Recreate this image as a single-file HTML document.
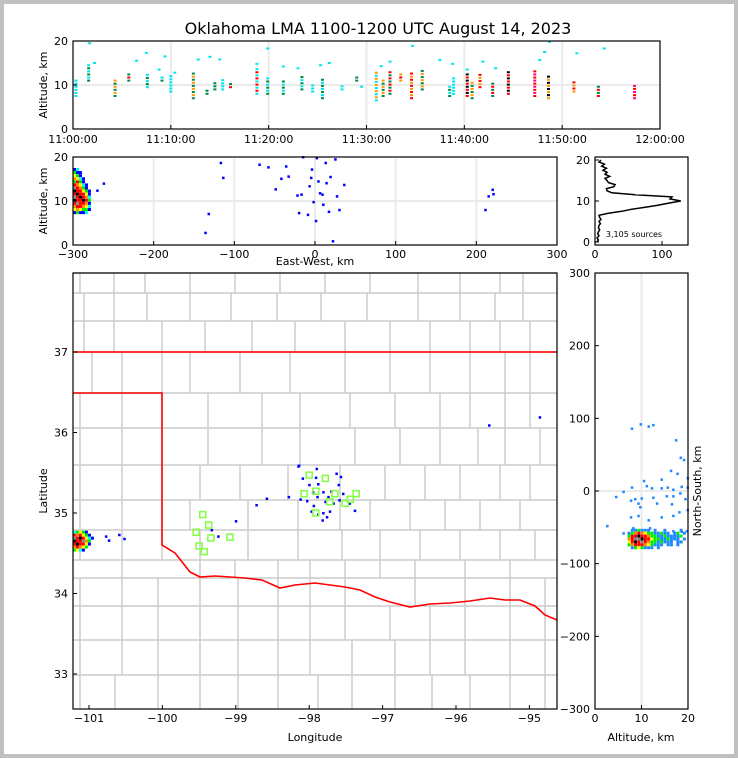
<!DOCTYPE html>
<html><head><meta charset="utf-8">
<style>
html,body{margin:0;padding:0;background:#c0c0c0;}
#fig{position:absolute;left:4px;top:4px;width:730px;height:750px;background:#fff;}
svg{position:absolute;left:0;top:0;}
text{font-family:"DejaVu Sans","Liberation Sans",sans-serif;fill:#000;}
</style></head>
<body>
<div id="fig"></div>
<svg id="svg" width="738" height="758"></svg>
<script>
// ---------- data ----------
const flashTimes = [0.3,1.6,4.3,5.7,7.6,9.1,10,12.3,13.7,14.5,15.3,16.1,18.8,19.9,21.5,23.4,24.5,25.5,27.5,29,31,31.7,32.4,33.5,34.6,35.7,38.5,38.9,40.3,40.8,41.6,42.9,44.5,47.2,48.6,51.2,53.7,57.4];
const flashLo = [7.5,11,7.5,11,9.5,11,8.5,7,8,9,9,9.5,8,8,8,9,8.5,7,9,11,6.5,7.5,8,11,7,9,7.5,8,7.5,7,9.5,7.5,8,7.5,7,8.5,7.5,7];
const flashHi = [11,14.5,11,13,12.5,12,12.5,13,9,11,11.5,10.5,14,11.5,11,12,10.5,11.5,10,12,13,11,13,13,13,13.5,10,12,13,11,12.5,10.5,13,13.5,12,11,10,10];
const flashC1 = ['c','g','g','g','c','g','c','g','g','g','c','r','c','g','g','g','c','g','c','g','c','g','g','o','r','g','g','c','r','g','r','g','r','r','o','o','r','m'];
const flashC2 = ['c','c','o','r','g','c','c','o','g','g','c','g','r','c','c','c','c','c','c','g','o','o','r','r','o','o','c','c','k','o','o','r','k','m','k','r','g','r'];
const highT = [1.7,2.2,6.5,7.5,8.8,9.4,10.4,12.8,14.0,15.0,18.8,19.9,21.5,23,25.3,26.2,29.5,31.5,32.4,34.7,37.5,38.8,40.3,41.9,43.2,47.7,48.2,48.7,51.5,54.3];
const highAlt = [19.5,15,15.5,17.3,13.5,16.5,12.8,15.8,16.4,15.8,14.8,18.3,14.2,13.8,14.5,15,9.6,14.3,15.3,18.9,15.7,14.8,13.5,15.3,13.8,15.7,17.5,19.8,17.2,18.3];

const ewKm = [-270,-262,-132,-136,-117,-114,-69,-58,-49,-42,-36,-33,-22,-20,-17,-15,-9,-7,-5,-4,-2,1,2,4,6,9,10,13,14,17,19,22,25,27,30,36,211,215,220,221];
const ewAlt = [12.4,14,7.1,2.8,18.7,15.3,18.3,17.7,12.7,15.1,17.9,15.6,11.3,7.3,11.5,20,6.9,13.4,15.3,17.2,9.8,5.5,19.8,14.5,11.8,11.5,9.2,18.7,14.1,7.6,15.5,0.9,19.5,11.1,8,13.7,8,11.1,12.6,11.6];
const ewGrid = [[1,2,0,0,0,0],[3,1,1,0,0,0],[4,3,1,0,0,0],[5,4,2,1,0,0],[3,6,3,1,0,0],[6,5,4,2,1,0],[8,6,5,3,1,0],[9,6,6,4,3,1],[6,9,6,6,4,1],[8,6,9,6,5,2],[9,6,6,9,6,3],[6,8,6,6,5,1],[5,6,6,5,4,2],[4,5,4,3,3,1],[1,3,1,1,2,0]];

const histAlt = [0,0.5,1,1.5,2,2.5,3,3.5,4,4.5,5,5.5,6,6.5,7,7.5,8,8.5,9,9.5,10,10.5,11,11.5,12,12.5,13,13.5,14,14.5,15,15.5,16,16.5,17,17.5,18,18.5,19,19.5,20];
const histCount = [3,5,3,6,4,5,7,5,6,8,6,9,7,6,20,40,55,75,95,110,128,112,115,60,25,18,17,28,30,20,18,15,22,15,18,12,17,10,14,6,9];

const ptLon = [-100.77,-100.59,-100.52,-100.73,-95.55,-94.86,-98.15,-98.14,-97.90,-98.09,-97.91,-97.63,-97.57,-98.00,-97.88,-97.81,-97.70,-97.60,-97.54,-97.95,-98.12,-98.03,-97.89,-97.78,-97.74,-97.67,-97.59,-97.45,-97.38,-97.97,-97.88,-97.81,-97.72,-97.82,-97.76,-97.94,-98.28,-98.58,-98.72,-99.00,-99.24,-99.33];
const ptLat = [34.71,34.73,34.68,34.66,36.09,36.19,35.58,35.59,35.55,35.43,35.44,35.49,35.45,35.35,35.36,35.26,35.27,35.35,35.24,35.26,35.17,35.15,35.20,35.14,35.20,35.12,35.16,35.12,35.03,35.02,34.98,35.00,35.02,34.91,34.95,35.09,35.20,35.18,35.10,34.90,34.71,34.79];
const mapGrid = [[2,3,4,3,1,0,0],[6,5,6,4,3,1,0],[8,6,9,6,4,2,1],[9,6,6,8,5,3,0],[6,9,6,6,4,1,0],[5,6,5,4,3,0,0],[3,4,2,1,0,0,0]];
const stLon = [-98.00,-97.78,-98.07,-97.91,-97.65,-97.72,-97.51,-97.44,-97.36,-97.91,-99.45,-99.37,-99.54,-99.34,-99.08,-99.50,-99.43];
const stLat = [35.47,35.43,35.24,35.27,35.24,35.14,35.12,35.17,35.24,35.00,34.98,34.85,34.76,34.69,34.70,34.59,34.52];

const nsAlt = [7.9,9.8,11.5,12.5,17.4,18.4,19.1,16.3,17.7,19.9,10.5,14.3,7.9,11.1,12.2,14.3,15.6,16.8,18.6,19.9,4.5,6.1,8.6,10,12.5,15.4,16.8,18.3,7.7,9.3,13.3,16.5,19.4,19.9,9.7,9.3,11.5,14.3,16.8,18.1,7.7,2.6,6.1,8.2,11.8,16.8,18.6,19.7];
const nsKm = [86,92,89,91,70,46,43,28,24,18,14,16,5,7,4,4,5,2,6,5,-8,-1,-11,-10,-9,-7,-7,-3,-13,-17,-17,-18,-11,-26,-22,-34,-40,-36,-34,-29,-36,-48,-58,-51,-51,-55,-56,-55];
const nsGrid = [[0,1,1,3,1,1,1,0,1,0,0,1,0,0,0,0,1,0],[1,3,5,6,5,4,3,3,1,1,3,1,1,0,1,3,0,1],[3,6,6,9,6,6,5,3,3,1,1,3,1,1,1,1,3,0],[5,6,8,8,9,6,6,4,3,3,1,1,3,1,1,1,0,1],[4,6,9,6,8,6,5,3,3,1,3,1,1,1,0,1,1,0],[3,5,6,6,6,5,4,3,1,1,1,0,1,1,0,1,0,0],[0,1,3,4,3,1,1,1,0,1,0,0,0,0,0,0,0,0]];

const timeLabels = ['11:00:00','11:10:00','11:20:00','11:30:00','11:40:00','11:50:00','12:00:00'];
const lonTicks = [-101,-100,-99,-98,-97,-96,-95];
const latTicks = [33,34,35,36,37];

// ---------- helpers ----------
const NS='http://www.w3.org/2000/svg';
const svg=document.getElementById('svg');
function mk(tag,attrs,parent){const e=document.createElementNS(NS,tag);for(const k in attrs)e.setAttribute(k,attrs[k]);(parent||svg).appendChild(e);return e;}
const levelColor=['none','#0000ff','#00ffff','#00ee00','#ffff00','#ff8800','#ff0000','#ff0066','#888888','#000000'];
const tcol={c:'#00e5ee',g:'#008844',o:'#ff9900',r:'#ff0000',k:'#000000',m:'#ff0088'};
function lin(d0,d1,r0,r1){return v=>r0+(v-d0)*(r1-r0)/(d1-d0);}
function text(x,y,s,anchor,size,name,rot){const t=mk('text',{x:x,y:y,'text-anchor':anchor||'middle','font-size':size||11});t.textContent=s;if(rot)t.setAttribute('transform','rotate('+rot+' '+x+' '+y+')');

return t;}
function frame(x0,y0,x1,y1,name){const r=mk('rect',{x:x0,y:y0,width:x1-x0,height:y1-y0,fill:'none',stroke:'#000','stroke-width':1.2});

}
function gridLine(x1,y1,x2,y2){const l=mk('line',{x1:x1,y1:y1,x2:x2,y2:y2,stroke:'#ebebeb','stroke-width':2});

}
function tick(x1,y1,x2,y2){const l=mk('line',{x1:x1,y1:y1,x2:x2,y2:y2,stroke:'#000','stroke-width':1});

}
function cell(x,y,w,h,c,name){const r=mk('rect',{x:x,y:y,width:w,height:h,fill:c});

}

text(378,34,'Oklahoma LMA 1100-1200 UTC August 14, 2023','middle',16,'chart-title');

// ---------- top panel: time-height ----------
const tx=lin(0,60,73,660), ty=lin(0,20,129,41);
gridLine(73,ty(10),660,ty(10));
for(let i=1;i<6;i++)gridLine(tx(i*10),41,tx(i*10),129);
flashTimes.forEach((t,i)=>{
  let k=0;
  for(let a=flashLo[i];a<=flashHi[i];a+=0.7,k++){
    cell(tx(t)-1.5,ty(a)-1,3,2,tcol[k%2?flashC2[i]:flashC1[i]],'time-height-source');
  }
});
highT.forEach((t,i)=>cell(tx(t)-1.5,ty(highAlt[i])-1,3,2,'#00e5ee','time-height-source'));
frame(73,41,660,129,'time-height-axes');
[0,10,20].forEach(v=>{tick(73,ty(v),77,ty(v));text(68,ty(v)+4,String(v),'end',11,'y-tick-label');});
timeLabels.forEach((s,i)=>{tick(tx(i*10),129,tx(i*10),125);text(tx(i*10),143,s,'middle',11,'x-tick-label');});
text(47,85,'Altitude, km','middle',11,'y-axis-title',-90);

// ---------- middle panel: east-west vs altitude ----------
const ex=lin(-300,300,73,557), ey=lin(0,20,245,157);
gridLine(73,ey(10),557,ey(10));
for(let v=-200;v<=200;v+=100)gridLine(ex(v),157,ex(v),245);
ewGrid.forEach((row,r)=>row.forEach((lv,c)=>{if(lv)cell(ex(-300+c*3.7),ey(17.5-r*0.7),3,3,levelColor[lv],'ew-density-cell');}));
ewKm.forEach((k,i)=>cell(ex(k)-1,ey(ewAlt[i])-1,2.5,2.5,'#0000ff','ew-source'));
frame(73,157,557,245,'east-west-axes');
[0,10,20].forEach(v=>{tick(73,ey(v),77,ey(v));text(68,ey(v)+4,String(v),'end',11,'y-tick-label');});
for(let v=-300;v<=300;v+=100){tick(ex(v),245,ex(v),241);text(ex(v),258,(v<0?'\u2212':'')+Math.abs(v),'middle',11,'x-tick-label');}
text(315,265,'East-West, km','middle',11,'x-axis-title');
text(47,201,'Altitude, km','middle',11,'y-axis-title',-90);

// ---------- histogram ----------
const hx=lin(0,100,595,662), hy=lin(0,20,242,160);
let d='';histAlt.forEach((a,i)=>{d+=(i?'L':'M')+hx(histCount[i]).toFixed(1)+' '+hy(a).toFixed(1);});
const hp=mk('path',{d:d,fill:'none',stroke:'#000','stroke-width':1.5});


frame(595,157,688,245,'histogram-axes');
[0,10,20].forEach(v=>{tick(595,hy(v),599,hy(v));text(590,hy(v)+4,String(v),'end',11,'y-tick-label');});
[0,100].forEach(v=>{tick(hx(v),245,hx(v),241);text(hx(v),258,String(v),'middle',11,'x-tick-label');});
text(634,237,'3,105 sources','middle',8,'source-count-label');

// ---------- map ----------
const mx=lin(-101,-95,89,529.4), my=lin(35,36,513,432.5);
const cg=mk('g',{stroke:'#cccccc','stroke-width':1.5,fill:'none'});


const bands=[[273,293,[80,114,145,190,235,280,325,370,418,460,500,523]],[293,321,[84,114,147,190,231,277,321,367,418,460,495,523]],[321,352,[84,114,162,205,252,295,345,390,430,470,500,530]],[352,393,[92,122,162,190,240,290,345,390,430,470,505,530]],[393,428,[80,122,162,208,262,300,350,395,440,470,505,530]],[428,465,[80,122,162,208,262,300,355,400,440,478,505,540]],[465,500,[80,122,162,200,240,288,340,385,425,460,500,530]],[500,530,[80,122,162,190,248,298,340,370,410,445,480,520]],[530,560,[80,122,162,200,248,298,342,380,420,460,500,535]],[560,578,[122,200,235,278,310,345,380,415,465,510]],[578,606,[80,122,158,200,238,278,310,345,415,465,510,545]],[606,640,[80,122,158,200,238,278,310,345,390,430,465,510,545]],[640,675,[80,122,158,200,238,278,310,352,395,430,465,510,545]],[675,709,[80,115,158,200,238,278,318,352,395,432,470,510,545]]];
bands.forEach(b=>{mk('line',{x1:73,y1:b[0],x2:557,y2:b[0]},cg);b[2].forEach(x=>mk('line',{x1:x,y1:b[0],x2:x,y2:b[1]},cg));});
const red=mk('path',{d:'M73 352 L557 352 M73 393 L162 393 L162 545 L175 553 L190 572 L200 577 L215 576 L230 577 L245 578 L262 580 L280 588 L295 585 L315 583 L330 585 L345 587 L360 590 L375 597 L390 602 L410 607 L430 604 L450 603 L470 601 L490 598 L505 600 L520 600 L535 606 L545 615 L557 620',fill:'none',stroke:'#ff0000','stroke-width':1.6});


mapGrid.forEach((row,r)=>row.forEach((lv,c)=>{if(lv)cell(mx(-101.22+c*0.041),my(34.78-r*0.037),3,3,levelColor[lv],'map-density-cell');}));
ptLon.forEach((lo,i)=>cell(mx(lo)-1,my(ptLat[i])-1,2.5,2.5,'#0000ff','map-source'));
stLon.forEach((lo,i)=>{const r=mk('rect',{x:mx(lo)-3,y:my(stLat[i])-3,width:6,height:6,fill:'none',stroke:'#7fff3f','stroke-width':1.5});

});
frame(73,273,557,709,'map-axes');
latTicks.forEach(v=>{tick(73,my(v),77,my(v));text(68,my(v)+4,String(v),'end',11,'y-tick-label');});
lonTicks.forEach(v=>{tick(mx(v),709,mx(v),705);text(mx(v),722,'\u2212'+Math.abs(v),'middle',11,'x-tick-label');});
text(315,741,'Longitude','middle',11,'x-axis-title');
text(47,491,'Latitude','middle',11,'y-axis-title',-90);

// ---------- right panel: altitude vs north-south ----------
const rx=lin(0,20,595,688), ry=lin(-300,300,709,273);
gridLine(rx(10),273,rx(10),709);gridLine(595,ry(0),688,ry(0));
nsGrid.forEach((row,r)=>row.forEach((lv,c)=>{if(lv)cell(rx(7+c*0.7),ry(-52-r*4),3,3,lv==1?'#1e88ff':levelColor[lv],'ns-density-cell');}));
nsAlt.forEach((a,i)=>cell(rx(a)-1,ry(nsKm[i])-1,2.5,2.5,'#1e88ff','ns-source'));
frame(595,273,688,709,'north-south-axes');
for(let v=-300;v<=300;v+=100){tick(595,ry(v),599,ry(v));text(590,ry(v)+4,(v<0?'\u2212':'')+Math.abs(v),'end',11,'y-tick-label');}
[0,10,20].forEach(v=>{tick(rx(v),709,rx(v),705);text(rx(v),722,String(v),'middle',11,'x-tick-label');});
text(641,741,'Altitude, km','middle',11,'x-axis-title');
text(701,491,'North-South, km','middle',11,'y-axis-title',-90);
</script>
</body></html>
